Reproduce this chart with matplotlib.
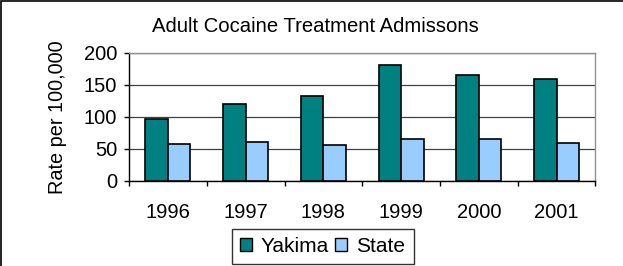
import numpy as np
import matplotlib
matplotlib.use("Agg")
import matplotlib.pyplot as plt
from matplotlib.patches import Rectangle

years = ["1996", "1997", "1998", "1999", "2000", "2001"]
yakima = [97, 120, 132, 180, 165, 159]
state = [57, 60, 55, 65, 65, 59]

plt.rcParams['font.family'] = ['Liberation Sans', 'DejaVu Sans']

fig = plt.figure(figsize=(6.23, 2.66), dpi=100)
ax = fig.add_axes([0.2071, 0.3207, 0.7487, 0.4819])

x = np.arange(len(years))
w = 0.29
ax.bar(x - w/2, yakima, w, color='#008080', edgecolor='black', linewidth=1.2, label='Yakima', zorder=3)
ax.bar(x + w/2, state, w, color='#99CCFF', edgecolor='black', linewidth=1.2, label='State', zorder=3)

ax.set_xlim(-0.5, len(years) - 0.5)
ax.set_ylim(0, 200)
ax.set_yticks([0, 50, 100, 150, 200])
ax.yaxis.grid(True, color='#404040', linewidth=0.9, zorder=0)
ax.set_axisbelow(True)

# category labels in the middle, tick marks between categories
ax.set_xticks(x)
ax.set_xticklabels(years, fontsize=14.5)
ax.tick_params(axis='x', length=0, pad=16)
ax.set_xticks(np.arange(-0.5, len(years)), minor=True)
ax.tick_params(axis='x', which='minor', length=3.6, width=1, color='black')
ax.tick_params(axis='y', labelsize=14.5, length=3.6, width=1, pad=5)

for s in ['top', 'right']:
    ax.spines[s].set_color('#909090')
    ax.spines[s].set_linewidth(1)
ax.spines['left'].set_linewidth(1)
ax.spines['bottom'].set_linewidth(1)

fig.text(0.507, 0.881, "Adult Cocaine Treatment Admissons", fontsize=14.6, ha='center', va='baseline')
fig.text(0.092, 0.558, "Rate per 100,000", fontsize=14.3, rotation=90, ha='center', va='center')

leg = fig.legend(loc='center', bbox_to_anchor=(0.518, 0.073), ncol=2, fontsize=15,
                 frameon=True, fancybox=False, handlelength=0.55, handleheight=0.55,
                 handletextpad=0.45, columnspacing=0.3, borderpad=0.4, borderaxespad=0)
leg.get_frame().set_edgecolor('black')
leg.get_frame().set_linewidth(1)
for h in leg.legend_handles:
    h.set_linewidth(1)

# outer chart border
fig.patches.append(Rectangle((0.002, -0.05), 1.1, 1.045, transform=fig.transFigure,
                             fill=False, edgecolor='black', linewidth=1.2))

fig.savefig("out.png", dpi=100)
